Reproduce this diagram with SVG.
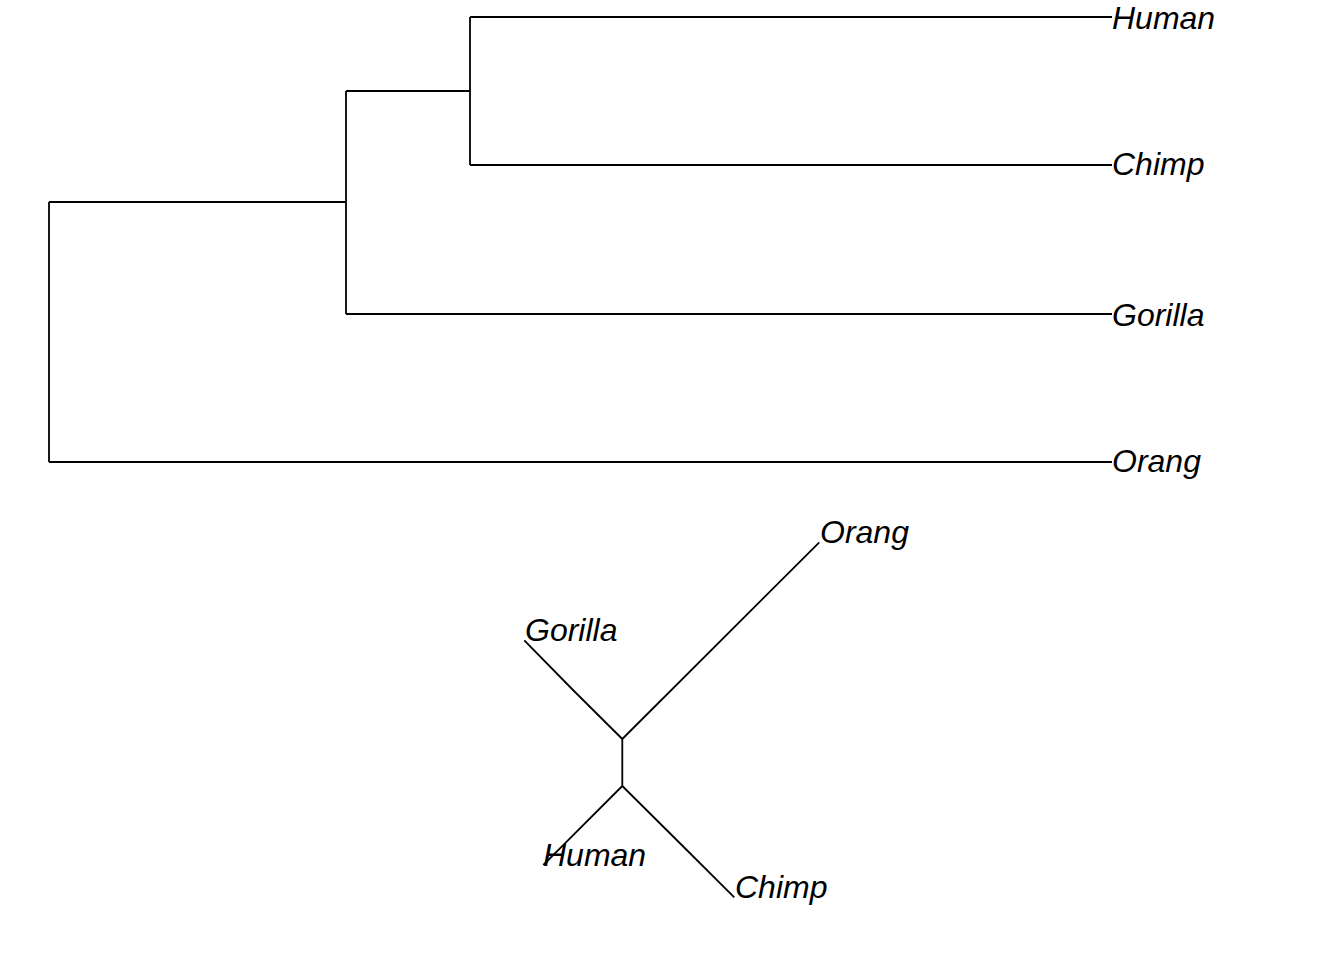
<svg xmlns="http://www.w3.org/2000/svg" width="1344" height="960" viewBox="0 0 1344 960">
<style>
.e{fill:none;stroke:#000;stroke-width:1.8;stroke-linecap:butt;stroke-linejoin:round}
.t{font-family:"Liberation Sans",Arial,sans-serif;font-style:italic;font-size:32px;fill:#000}
</style>
<rect width="1344" height="960" fill="#fff"/>
<g id="connectors">
<path class="e" d="M49,202 V462 M49,202 H346 M346,91 V314 M346,91 H470 M470,17 V165 M470,17 H1112 M470,165 H1112 M346,314 H1112 M49,462 H1112"/>
<path class="e" d="M622.3,739 V786 M622.3,739 L819.3,542.3 M622.3,739 L573.5,690.5 L524.3,640.3 M622.3,786 L565.7,842.7 L543.3,865 M622.3,786 L677.7,841 L734.3,897.3"/>
</g>
<g id="node-human"><text class="t" x="1112" y="29">Human</text></g>
<g id="node-chimp"><text class="t" x="1112" y="175">Chimp</text></g>
<g id="node-gorilla"><text class="t" x="1112" y="326">Gorilla</text></g>
<g id="node-orang"><text class="t" x="1112" y="472">Orang</text></g>
<g id="node-orang-u"><text class="t" x="820" y="543">Orang</text></g>
<g id="node-gorilla-u"><text class="t" x="525" y="641">Gorilla</text></g>
<g id="node-human-u"><text class="t" x="543" y="866">Human</text></g>
<g id="node-chimp-u"><text class="t" x="735" y="898">Chimp</text></g>
</svg>
